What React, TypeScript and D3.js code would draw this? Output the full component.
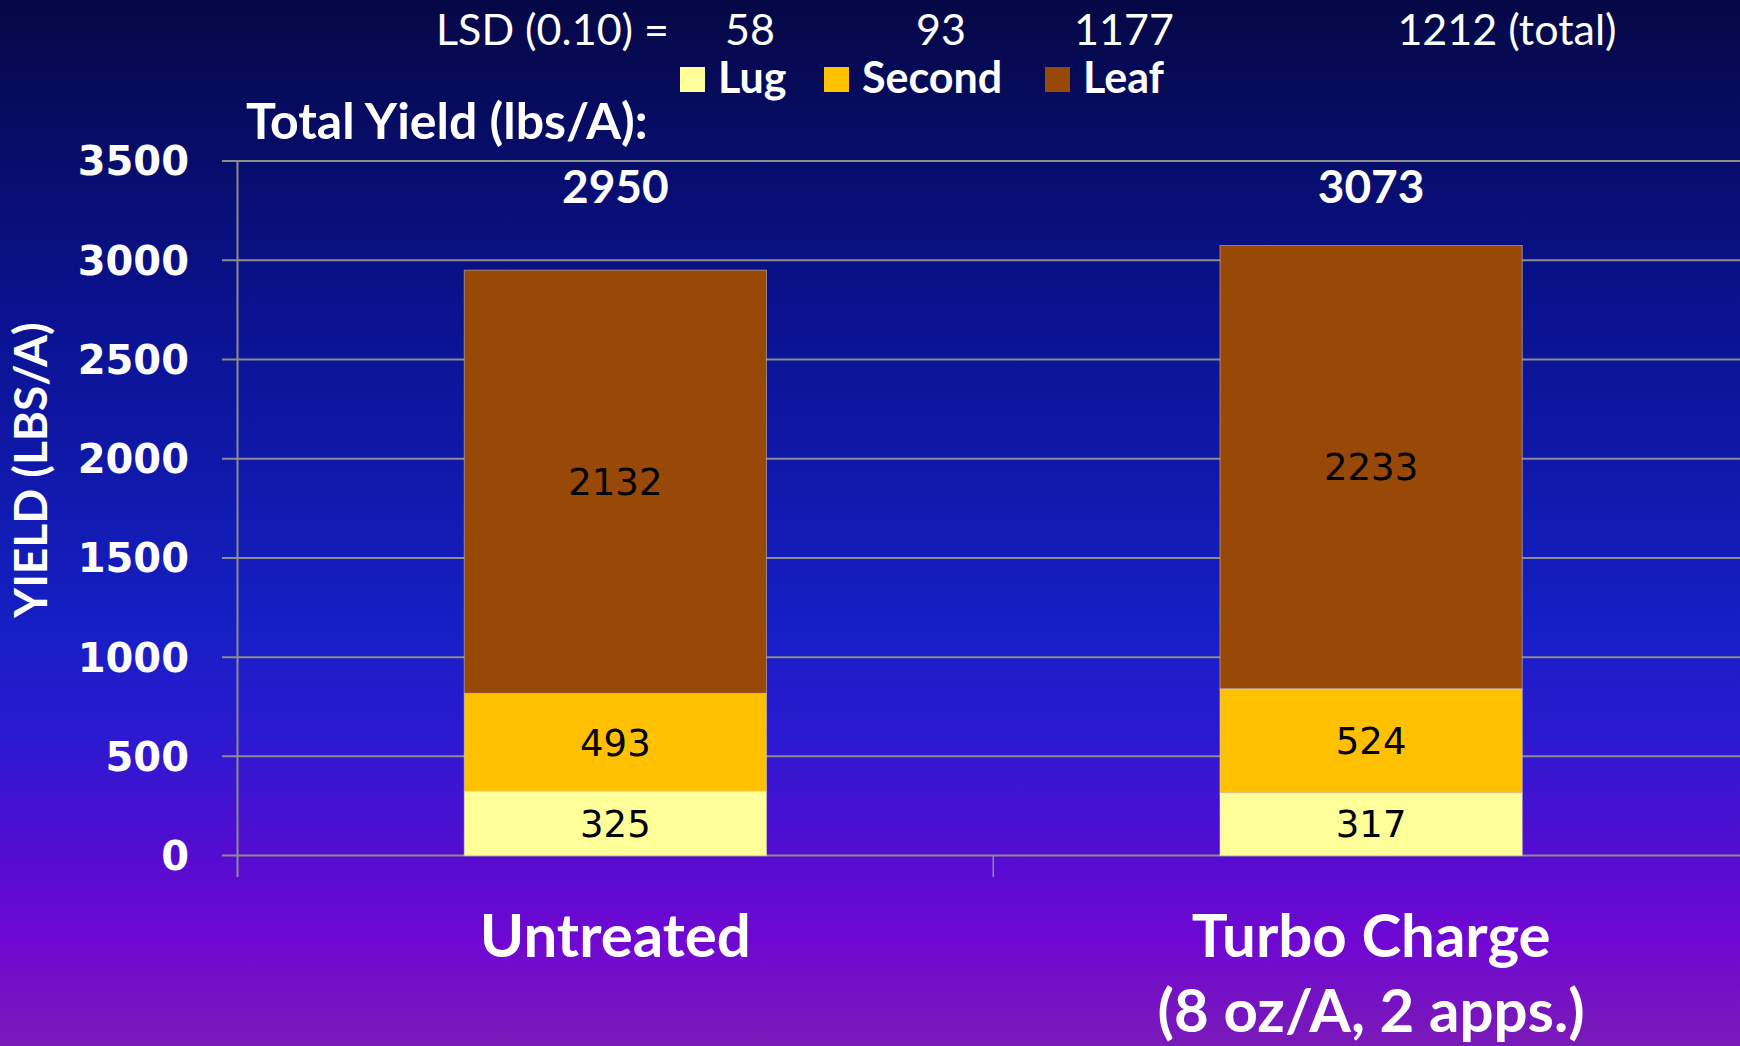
import React from 'react';
import * as d3 from 'd3';

// chart data
const categories = ['Untreated', 'Turbo Charge'];
const categoryLines = [['Untreated'], ['Turbo Charge', '(8 oz/A, 2 apps.)']];
const series = ['Lug', 'Second', 'Leaf'];
const lugValues = [325, 317];
const secondValues = [493, 524];
const leafValues = [2132, 2233];
const totalLabels = ['2950', '3073'];
const lsdValues = ['58', '93', '1177', '1212 (total)'];
const yTicks = [0, 500, 1000, 1500, 2000, 2500, 3000, 3500];

const colors: Record<string, string> = { Lug: '#FFFF99', Second: '#FFC000', Leaf: '#984807' };

const W = 1740;
const H = 1046;
const left = 237.5;
const right = 1749;
const top = 161;
const bottom = 855.6;
const calibri = 'Lato, "Open Sans", sans-serif';
const verdana = '"DejaVu Sans", Verdana, sans-serif';

const App: React.FC = () => {
  const rows = categories.map((c, i) => ({
    cat: c,
    Lug: lugValues[i],
    Second: secondValues[i],
    Leaf: leafValues[i],
  }));

  const x = d3.scaleBand<string>()
    .domain(categories)
    .range([left, right])
    .paddingInner(0.6)
    .paddingOuter(0.3);
  const step = x.step();

  const y = d3.scaleLinear().domain([0, 3500]).range([bottom, top]);

  const stacked = d3.stack<any>().keys(series)(rows);

  const lsdX = [750, 941, 1124, 1507];
  const legendX = [680, 824, 1045];

  return (
    <svg width={W} height={H} style={{ position: 'absolute', left: 0, top: 0, display: 'block' }}>
      <defs>
        <linearGradient id="bg" x1="0" y1="0" x2="0" y2="1">
          <stop offset="0%" stopColor="#050845" />
          <stop offset="30%" stopColor="#0a1290" />
          <stop offset="60%" stopColor="#161fc4" />
          <stop offset="70%" stopColor="#2a1ad0" />
          <stop offset="81%" stopColor="#520dd0" />
          <stop offset="90%" stopColor="#7008d2" />
          <stop offset="100%" stopColor="#7a1ab8" />
        </linearGradient>
      </defs>
      <rect x={0} y={0} width={W} height={H} fill="url(#bg)" />

      {/* gridlines and ticks */}
      {yTicks.map(t => (
        <g key={t}>
          <line x1={222} x2={right} y1={y(t)} y2={y(t)} stroke="#8c8c8c" strokeWidth={2} />
          <text x={189} y={y(t)} dy="0.36em" textAnchor="end" fill="#fff"
            fontFamily={verdana} fontWeight="bold" fontSize={40}>{t}</text>
        </g>
      ))}
      <line x1={left} x2={left} y1={top} y2={877} stroke="#8c8c8c" strokeWidth={2} />
      <line x1={left + step} x2={left + step} y1={bottom} y2={877} stroke="#8c8c8c" strokeWidth={1.5} />

      {/* stacked bars */}
      {stacked.map(layer => (
        <g key={layer.key}>
          {layer.map((d, i) => (
            <g key={i}>
              <rect x={x(categories[i])} y={y(d[1])} width={x.bandwidth()} height={y(d[0]) - y(d[1])}
                fill={colors[layer.key]} stroke="#d9d9d9" strokeOpacity={0.5} strokeWidth={1} />
              <text x={(x(categories[i]) as number) + x.bandwidth() / 2} y={(y(d[0]) + y(d[1])) / 2}
                dy="0.36em" textAnchor="middle" fill="#000" fontFamily={verdana} fontSize={37}>
                {d[1] - d[0]}
              </text>
            </g>
          ))}
        </g>
      ))}

      {/* totals */}
      {categories.map((c, i) => (
        <text key={c} x={(x(c) as number) + x.bandwidth() / 2} y={203} textAnchor="middle"
          fill="#fff" fontFamily={calibri} fontWeight="bold" fontSize={46}>{totalLabels[i]}</text>
      ))}
      <text x={246} y={139} fill="#fff" fontFamily={calibri} fontWeight="bold" fontSize={50}>
        Total Yield (lbs/A):
      </text>

      {/* category labels */}
      {categories.map((c, i) => (
        <text key={c} textAnchor="middle" fill="#fff" fontFamily={calibri} fontWeight="bold" fontSize={60}>
          {categoryLines[i].map((ln, j) => (
            <tspan key={j} x={(x(c) as number) + x.bandwidth() / 2} y={957 + j * 75}>{ln}</tspan>
          ))}
        </text>
      ))}

      {/* y axis title */}
      <text transform="translate(47,470) rotate(-90)" textAnchor="middle" fill="#fff"
        fontFamily={calibri} fontWeight="bold" fontSize={46}>YIELD (LBS/A)</text>

      {/* LSD line */}
      <text x={669} y={45} textAnchor="end" fill="#fff" fontFamily={calibri} fontSize={43}>LSD (0.10) =</text>
      {lsdValues.map((v, i) => (
        <text key={v} x={lsdX[i]} y={45} textAnchor="middle" fill="#fff" fontFamily={calibri} fontSize={43}>{v}</text>
      ))}

      {/* legend */}
      {series.map((s, i) => (
        <g key={s}>
          <rect x={legendX[i]} y={67} width={25} height={25} fill={colors[s]} />
          <text x={legendX[i] + 38} y={93} fill="#fff" fontFamily={calibri} fontWeight="bold" fontSize={43}>{s}</text>
        </g>
      ))}
    </svg>
  );
};

export default App;
